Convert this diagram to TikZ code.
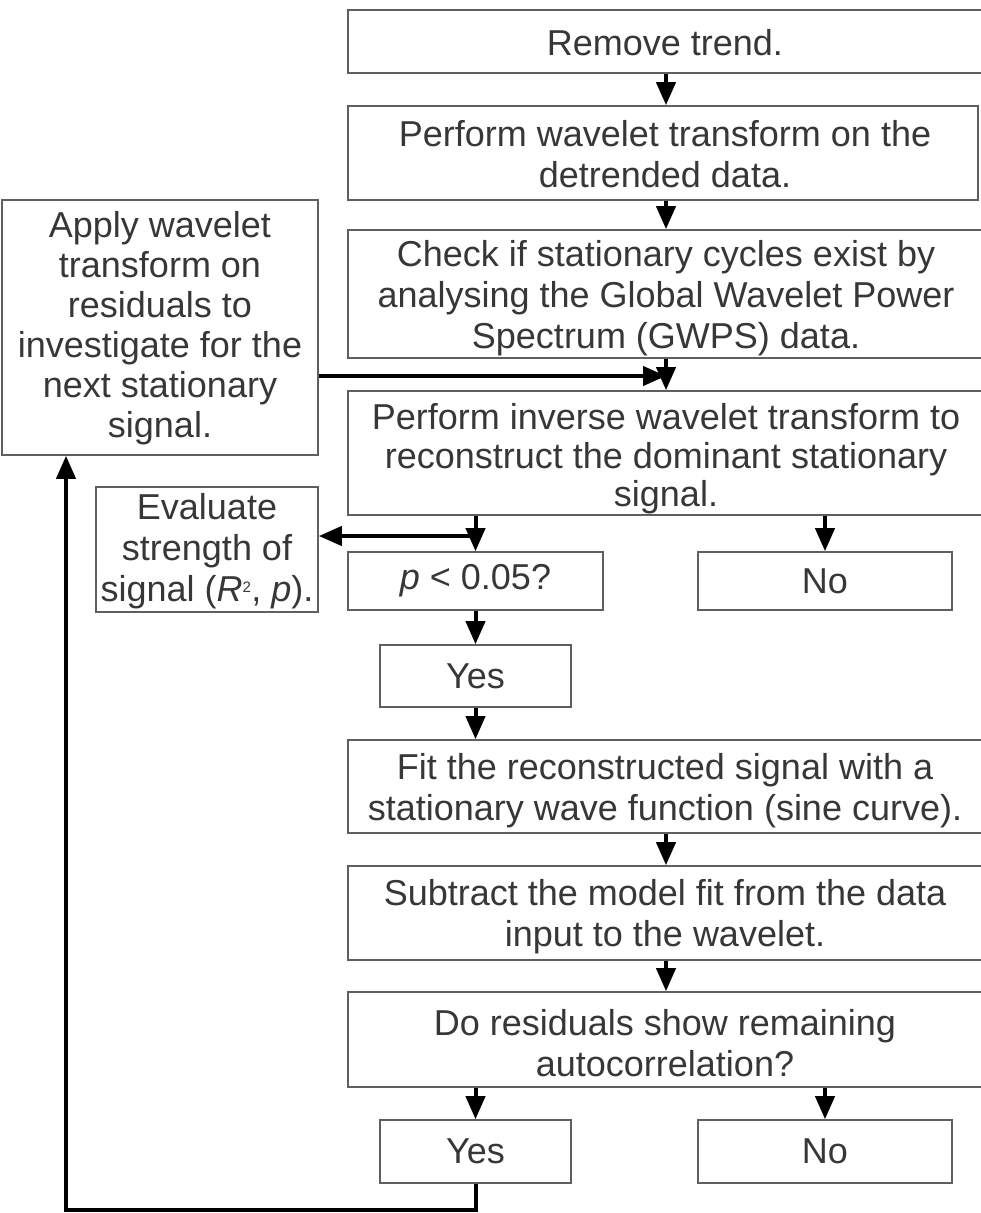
\documentclass[tikz,border=0pt]{standalone}
\usepackage{fontspec}
\setmainfont{Liberation Sans}
\usetikzlibrary{arrows.meta}
\definecolor{txtgray}{RGB}{55,55,55}
\definecolor{boxgray}{RGB}{95,95,95}
\tikzset{
  base/.style={font=\fontsize{36}{41}\selectfont, text=txtgray, align=center, inner sep=0pt, anchor=center},
  framed/.style={base, draw=boxgray, line width=1.6pt},
  txt/.style={base, draw=none},
  arr/.style={line width=4pt, -{Triangle[length=23pt,width=19pt]}},
}
\begin{document}
\begin{tikzpicture}[x=1pt,y=-1pt]
\useasboundingbox (0,0) rectangle (981,1213);
\clip (0,0) rectangle (981,1213);
% ---- frames (boxes running past the right edge are wider)
\node[framed, minimum width=660, minimum height=63] (b1) at (678,41.5) {};
\node[framed, minimum width=630, minimum height=94] (b2) at (663,153) {};
\node[framed, minimum width=660, minimum height=128] (b3) at (678,294) {};
\node[framed, minimum width=660, minimum height=124] (b4) at (678,453) {};
\node[framed, minimum width=255, minimum height=58] (pb) at (475.5,581) {\textit{p} < 0.05?};
\node[framed, minimum width=254, minimum height=58] (no1) at (825,581) {No};
\node[framed, minimum width=191, minimum height=62] (yes1) at (475.5,676) {Yes};
\node[framed, minimum width=660, minimum height=93] (b8) at (678,786.5) {};
\node[framed, minimum width=660, minimum height=94] (b9) at (678,913) {};
\node[framed, minimum width=660, minimum height=95] (b10) at (678,1039.5) {};
\node[framed, minimum width=191, minimum height=63] (yes2) at (475.5,1151.5) {Yes};
\node[framed, minimum width=254, minimum height=63] (no2) at (825,1151.5) {No};
\node[framed, minimum width=316, minimum height=255] (apply) at (160,327.5) {};
\node[framed, minimum width=222, minimum height=125] (eval) at (207,549.5) {};
% ---- texts
\node[txt] (t1) at (665,43) {Remove trend.};
\node[txt] (t2) at (665,154.5) {Perform wavelet transform on the\\detrended data.};
\node[txt] (t3) at (666,298) {Check if stationary cycles exist by\\analysing the Global Wavelet Power\\Spectrum (GWPS) data.};
\node[txt, font=\fontsize{36}{38.5}\selectfont] (t4) at (666,459) {Perform inverse wavelet transform to\\reconstruct the dominant stationary\\signal.};
\node[txt] (t8) at (665,791) {Fit the reconstructed signal with a\\stationary wave function (sine curve).};
\node[txt] (t9) at (665,917) {Subtract the model fit from the data\\input to the wavelet.};
\node[txt] (t10) at (665,1043) {Do residuals show remaining\\autocorrelation?};
\node[txt, font=\fontsize{36}{40}\selectfont] (tapply) at (160,328) {Apply wavelet\\transform on\\residuals to\\investigate for the\\next stationary\\signal.};
\node[txt] (teval) at (207,551) {Evaluate\\strength of\\signal (\textit{R}\textsuperscript{\scalebox{0.6}{2}}, \textit{p}).};
% ---- helper coordinates
\coordinate (mx) at (666,0);
\coordinate (hy) at (0,376);
\coordinate (ey) at (0,536);
\coordinate (by) at (0,1210);
\coordinate (lx) at (66,0);
% ---- connectors
\draw[arr] (b1.south -| mx) -- (b2.north -| mx);
\draw[arr] (b2.south -| mx) -- (b3.north -| mx);
\draw[arr] (b3.south -| mx) -- (b4.north -| mx);
\draw[arr] (apply.east |- hy) -- (mx |- hy);
\draw[arr] (b4.south -| pb.north) -- (pb.north);
\draw[arr] (pb.north |- ey) -- (eval.east |- ey);
\draw[arr] (b4.south -| no1.north) -- (no1.north);
\draw[arr] (pb.south) -- (yes1.north);
\draw[arr] (yes1.south) -- (yes1.south |- b8.north);
\draw[arr] (b8.south -| mx) -- (b9.north -| mx);
\draw[arr] (b9.south -| mx) -- (b10.north -| mx);
\draw[arr] (b10.south -| yes2.north) -- (yes2.north);
\draw[arr] (b10.south -| no2.north) -- (no2.north);
\draw[arr] (yes2.south) -- (yes2.south |- by) -- (lx |- by) -- (lx |- apply.south);
\end{tikzpicture}
\end{document}
